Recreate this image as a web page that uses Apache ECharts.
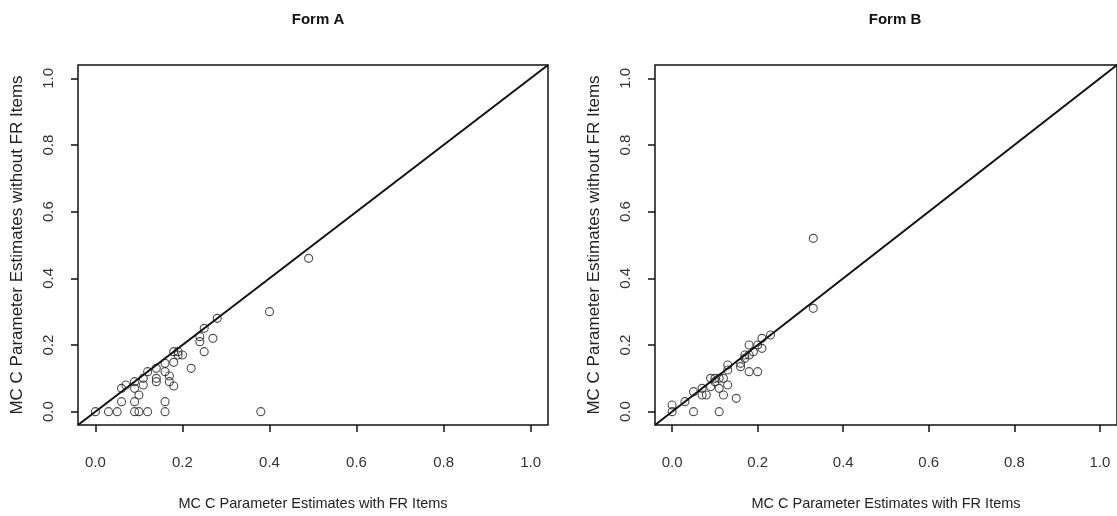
<!DOCTYPE html>
<html>
<head>
<meta charset="utf-8">
<script src="https://cdn.jsdelivr.net/npm/echarts@6/dist/echarts.min.js"></script>
<style>html,body{margin:0;padding:0;background:#fff;}#c{width:1117px;height:516px;}</style>
</head>
<body>
<div id="c"></div>
<script>
// Form A: [with FR, without FR]
var formA = [
  [0.00,0.00],[0.03,0.00],[0.05,0.00],[0.09,0.00],[0.10,0.00],[0.12,0.00],[0.16,0.00],
  [0.16,0.03],[0.09,0.03],[0.06,0.03],[0.10,0.05],[0.06,0.07],[0.07,0.08],[0.09,0.07],
  [0.09,0.09],[0.11,0.08],[0.11,0.10],[0.12,0.12],[0.14,0.13],[0.14,0.10],[0.14,0.09],
  [0.16,0.145],[0.16,0.12],[0.17,0.107],[0.17,0.09],[0.18,0.077],[0.18,0.148],[0.18,0.18],
  [0.19,0.17],[0.20,0.17],[0.19,0.18],[0.22,0.13],[0.24,0.21],[0.24,0.225],[0.25,0.25],
  [0.25,0.18],[0.27,0.22],[0.28,0.28],[0.38,0.00],[0.40,0.30],[0.49,0.46]
];
// Form B: [with FR, without FR]
var formB = [
  [0.00,0.02],[0.00,0.00],[0.03,0.03],[0.05,0.00],[0.05,0.06],[0.07,0.07],[0.07,0.05],
  [0.08,0.05],[0.09,0.075],[0.09,0.10],[0.10,0.10],[0.10,0.09],[0.11,0.07],[0.11,0.00],
  [0.11,0.10],[0.12,0.10],[0.12,0.05],[0.13,0.08],[0.13,0.125],[0.13,0.14],[0.15,0.04],
  [0.16,0.135],[0.16,0.145],[0.17,0.16],[0.17,0.17],[0.18,0.17],[0.18,0.12],[0.18,0.20],
  [0.19,0.18],[0.20,0.12],[0.20,0.20],[0.21,0.19],[0.21,0.22],[0.23,0.23],[0.33,0.31],
  [0.33,0.52]
];
var tickValues = [0, 0.2, 0.4, 0.6, 0.8, 1.0];
var tickLabels = ['0.0', '0.2', '0.4', '0.6', '0.8', '1.0'];
var identityLine = [[-0.04, -0.04], [1.04, 1.04]];
var titles = ['Form A', 'Form B'];
var xName = 'MC C Parameter Estimates with FR Items';
var yName = 'MC C Parameter Estimates without FR Items';

var chart = echarts.init(document.getElementById('c'), null, {renderer: 'canvas'});
var font = 'Liberation Sans, Arial, sans-serif';
var grids = [
  {left: 78, top: 65, width: 470, height: 362},
  {left: 655, top: 65, width: 470, height: 362}
];
function fmt(v) {
  var i = tickValues.indexOf(Math.round(v * 10) / 10);
  return i >= 0 ? tickLabels[i] : '';
}
function xAxis(i) {
  return {
    type: 'value', gridIndex: i, min: -0.04, max: 1.04, position: 'bottom',
    name: xName, nameLocation: 'middle', nameGap: 71,
    nameTextStyle: {fontFamily: font, fontSize: 14.5, color: '#222'},
    axisLine: {show: false, onZero: false},
    axisTick: {show: true, length: 7, inside: false, customValues: tickValues,
      lineStyle: {color: '#111', width: 1.5}},
    axisLabel: {customValues: tickValues, formatter: fmt, margin: 30,
      fontFamily: font, fontSize: 15, color: '#333'},
    splitLine: {show: false}
  };
}
function yAxis(i) {
  return {
    type: 'value', gridIndex: i, min: -0.04, max: 1.04, position: 'left',
    name: yName, nameLocation: 'middle', nameGap: 52,
    nameTextStyle: {fontFamily: font, fontSize: 17, color: '#222'},
    axisLine: {show: false, onZero: false},
    axisTick: {show: true, length: 7, inside: false, customValues: tickValues,
      lineStyle: {color: '#111', width: 1.5}},
    axisLabel: {customValues: tickValues, formatter: fmt, margin: 22, rotate: 90,
      fontFamily: font, fontSize: 15, color: '#333'},
    splitLine: {show: false}
  };
}
var option = {
  backgroundColor: '#fff',
  animation: false,
  title: [
    {text: titles[0], left: 313, top: 7, textAlign: 'center',
      textStyle: {fontFamily: 'Liberation Sans Narrow, ' + font, fontSize: 15, fontWeight: 'bold', color: '#111'}},
    {text: titles[1], left: 890, top: 7, textAlign: 'center',
      textStyle: {fontFamily: 'Liberation Sans Narrow, ' + font, fontSize: 15, fontWeight: 'bold', color: '#111'}}
  ],
  grid: grids.map(function (g) {
    return Object.assign({show: true, borderColor: '#111', borderWidth: 1.5, backgroundColor: 'transparent'}, g);
  }),
  xAxis: [xAxis(0), xAxis(1)],
  yAxis: [yAxis(0), yAxis(1)],
  series: [
    {type: 'scatter', xAxisIndex: 0, yAxisIndex: 0, data: formA, symbol: 'circle', symbolSize: 8,
      itemStyle: {color: 'transparent', borderColor: '#222', borderWidth: 1.1}},
    {type: 'line', xAxisIndex: 0, yAxisIndex: 0, data: identityLine, symbol: 'none',
      lineStyle: {color: '#111', width: 2}},
    {type: 'scatter', xAxisIndex: 1, yAxisIndex: 1, data: formB, symbol: 'circle', symbolSize: 8,
      itemStyle: {color: 'transparent', borderColor: '#222', borderWidth: 1.1}},
    {type: 'line', xAxisIndex: 1, yAxisIndex: 1, data: identityLine, symbol: 'none',
      lineStyle: {color: '#111', width: 2}}
  ]
};
chart.setOption(option);
</script>
</body>
</html>
